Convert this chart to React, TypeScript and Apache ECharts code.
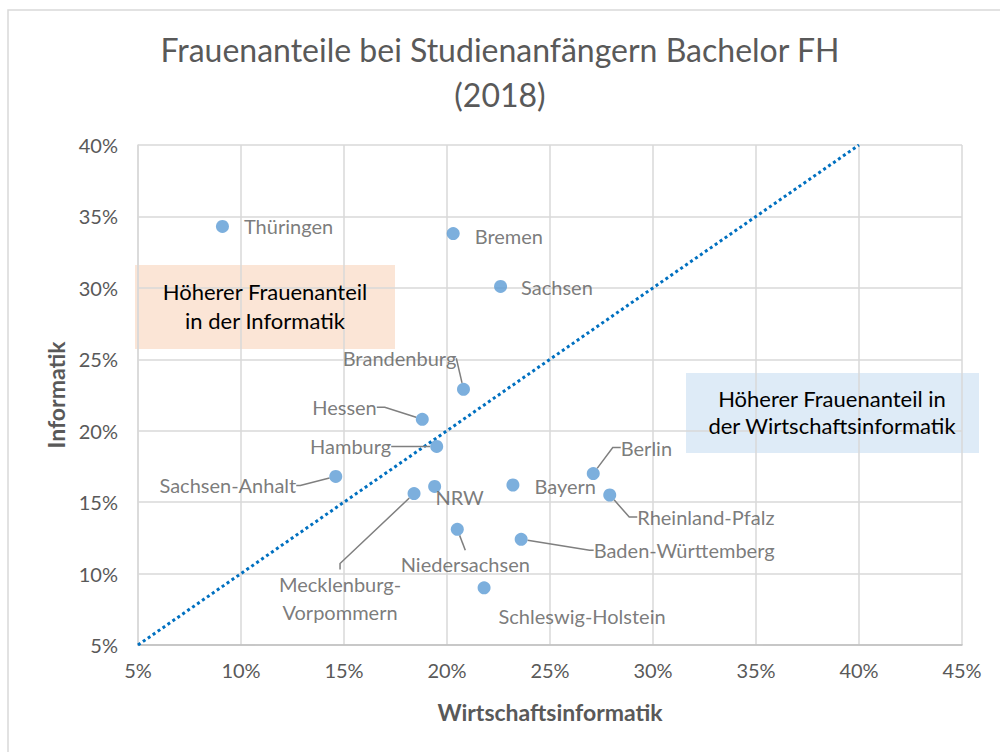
import React, { useEffect, useRef } from "react";
import * as echarts from "echarts";

// ---- data ----
const states = [
  "Thüringen",
  "Bremen",
  "Sachsen",
  "Brandenburg",
  "Hessen",
  "Hamburg",
  "Sachsen-Anhalt",
  "NRW",
  "Mecklenburg-\nVorpommern",
  "Bayern",
  "Berlin",
  "Rheinland-Pfalz",
  "Niedersachsen",
  "Baden-Württemberg",
  "Schleswig-Holstein",
];
const wirtschaftsinformatik = [9.1, 20.3, 22.6, 20.8, 18.8, 19.5, 14.6, 19.4, 18.4, 23.2, 27.1, 27.9, 20.5, 23.6, 21.8];
const informatik = [34.3, 33.8, 30.1, 22.9, 20.8, 18.9, 16.8, 16.1, 15.6, 16.2, 17.0, 15.5, 13.1, 12.4, 9.0];
const diagonal = [5, 40];
const xTicks = { min: 5, max: 45, step: 5 };
const yTicks = { min: 5, max: 40, step: 5 };
const titleText = "Frauenanteile bei Studienanfängern Bachelor FH\n(2018)";
const xName = "Wirtschaftsinformatik";
const yName = "Informatik";
const noteInformatik = "Höherer Frauenanteil\nin der Informatik";
const noteWirtschaft = "Höherer Frauenanteil in\nder Wirtschaftsinformatik";

// ---- label placement (style only) ----
const labelPos = ["right", "right", "right", "inside", "left", "left", "left", "inside", "inside", "right", "right", "right", "inside", "right", "inside"];
const labelShift = [
  [4, 0], [4, 2], [3, 1], [-64, -31], [-28, -12], [-28, 0], [-22, 9], [25, 11], [-74, 104], [4, 1], [10, -26], [10, 22], [8, 35], [55, 11], [98, 28],
];
const leader = [false, false, false, true, true, true, true, false, true, false, true, true, true, true, false];
const leaderTail = [0, 0, 0, 0, 8, 4, 4, 0, 6, 0, 8, 8, 0, 4, 0];

const FONT = "Lato, 'Open Sans', sans-serif";
const GREY = "#595959";

function alignFor(pos: string) {
  if (pos === "right") return "left";
  if (pos === "left") return "right";
  return "center";
}

export default function App() {
  const ref = useRef<HTMLDivElement>(null);
  useEffect(() => {
    if (!ref.current) return;
    const chart = echarts.init(ref.current, undefined, { renderer: "svg" });
    const data = states.map((n, i) => ({
      name: n,
      value: [wirtschaftsinformatik[i], informatik[i]],
      label: { position: labelPos[i] as any, distance: 11, align: alignFor(labelPos[i]) as any },
      labelLine: { show: leader[i], length2: leaderTail[i] },
    }));
    chart.setOption({
      animation: false,
      backgroundColor: "#ffffff",
      textStyle: { fontFamily: FONT },
      title: {
        text: titleText,
        left: "center",
        top: 22,
        textStyle: { fontFamily: FONT, fontSize: 32, fontWeight: "normal", color: GREY, lineHeight: 45 },
      },
      grid: { left: 138, right: 38, top: 145, bottom: 107, containLabel: false },
      xAxis: {
        type: "value",
        min: xTicks.min,
        max: xTicks.max,
        interval: xTicks.step,
        name: xName,
        nameLocation: "middle",
        nameGap: 55,
        nameTextStyle: { fontFamily: FONT, fontSize: 23, fontWeight: "bold", color: GREY },
        axisLine: { show: true, lineStyle: { color: "#BFBFBF", width: 1.5 } },
        axisTick: { show: false },
        axisLabel: { formatter: "{value}%", fontSize: 20, color: GREY, margin: 15, fontFamily: FONT },
        splitLine: { show: true, lineStyle: { color: "#D9D9D9", width: 1.5 } },
      },
      yAxis: {
        type: "value",
        min: yTicks.min,
        max: yTicks.max,
        interval: yTicks.step,
        name: yName,
        nameLocation: "middle",
        nameGap: 69,
        nameTextStyle: { fontFamily: FONT, fontSize: 23, fontWeight: "bold", color: GREY },
        axisLine: { show: true, lineStyle: { color: "#D9D9D9", width: 1.5 } },
        axisTick: { show: false },
        axisLabel: { formatter: "{value}%", fontSize: 20, color: GREY, margin: 20, fontFamily: FONT },
        splitLine: { show: true, lineStyle: { color: "#D9D9D9", width: 1.5 } },
      },
      graphic: [
        {
          type: "rect",
          shape: { x: 8, y: 10, width: 1000, height: 760 },
          style: { fill: "none", stroke: "#D9D9D9", lineWidth: 1.5 },
          silent: true,
          z: -10,
        },
        {
          type: "rect",
          shape: { x: 135, y: 265, width: 260, height: 84 },
          style: { fill: "#FBE5D6" },
          silent: true,
          z: 0,
        },
        {
          type: "text",
          x: 265,
          y: 306,
          style: {
            text: noteInformatik,
            fill: "#000000",
            fontFamily: FONT,
            fontSize: 22,
            lineHeight: 29,
            align: "center",
            verticalAlign: "middle",
          },
          z: 1,
        },
        {
          type: "rect",
          shape: { x: 686, y: 373, width: 293, height: 80 },
          style: { fill: "#DEEBF7" },
          silent: true,
          z: 0,
        },
        {
          type: "text",
          x: 832,
          y: 412,
          style: {
            text: noteWirtschaft,
            fill: "#000000",
            fontFamily: FONT,
            fontSize: 22,
            lineHeight: 27,
            align: "center",
            verticalAlign: "middle",
          },
          z: 1,
        },
      ],
      series: [
        {
          type: "line",
          data: [
            [diagonal[0], diagonal[0]],
            [diagonal[1], diagonal[1]],
          ],
          symbol: "none",
          lineStyle: { type: "dotted", color: "#0070C0", width: 3 },
          z: 3,
          silent: true,
        },
        {
          type: "scatter",
          data,
          symbolSize: 13,
          itemStyle: { color: "#5B9BD5" },
          z: 4,
          label: {
            show: true,
            formatter: "{b}",
            color: GREY,
            fontSize: 20,
            fontFamily: FONT,
            lineHeight: 28,
          },
          labelLine: {
            show: true,
            lineStyle: { color: "#7F7F7F", width: 1.5 },
          },
          labelLayout: (p: any) => {
            const s = labelShift[p.dataIndex];
            return { dx: s[0], dy: s[1] };
          },
        },
      ],
    });
    return () => chart.dispose();
  }, []);
  return (
    <div
      ref={ref}
      style={{ position: "absolute", left: 0, top: 0, width: 1000, height: 752, background: "#fff" }}
    />
  );
}
